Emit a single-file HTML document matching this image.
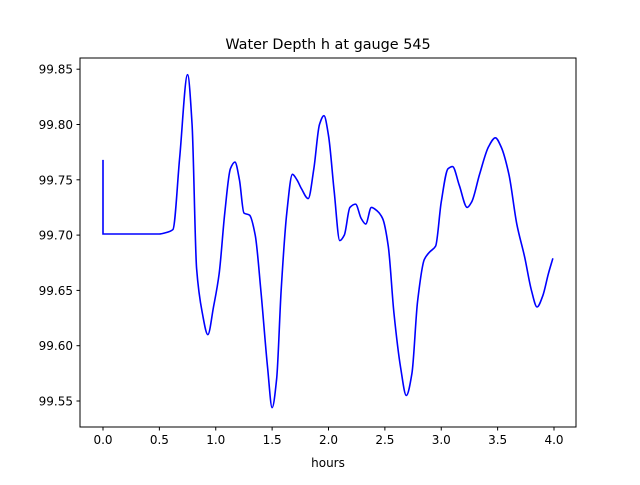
<!DOCTYPE html>
<html><head><meta charset="utf-8"><style>
body{margin:0;background:#fff}
svg text{font-family:"DejaVu Sans","Liberation Sans",sans-serif;fill:#000}
</style></head><body>
<svg id="c" width="640" height="480" xmlns="http://www.w3.org/2000/svg">
<rect width="640" height="480" fill="#fff"/>
<text x="328" y="49" font-size="14.4" text-anchor="middle">Water Depth h at gauge 545</text>
<text x="328" y="467" font-size="12" text-anchor="middle">hours</text>
<g id="ticks"></g>
<path id="line" fill="none" stroke="#0000ff" stroke-width="1.6"/>
<rect x="80" y="58" width="496" height="369" fill="none" stroke="#000" stroke-width="1"/>
</svg>
<script>
const hours=[0,0,0.5,0.55,0.62,0.68,0.75,0.79,0.83,0.88,0.93,0.98,1.03,1.08,1.13,1.17,1.21,1.25,1.3,1.35,1.4,1.46,1.5,1.54,1.58,1.63,1.68,1.72,1.76,1.82,1.87,1.92,1.96,2.0,2.05,2.1,2.14,2.19,2.24,2.29,2.33,2.38,2.43,2.48,2.53,2.58,2.64,2.69,2.74,2.79,2.85,2.9,2.95,3.0,3.06,3.1,3.16,3.23,3.27,3.34,3.42,3.48,3.53,3.6,3.67,3.74,3.8,3.85,3.9,3.95,3.99];
const depth=[99.768,99.701,99.701,99.702,99.705,99.77,99.845,99.80,99.67,99.63,99.61,99.635,99.665,99.72,99.76,99.766,99.75,99.72,99.718,99.70,99.65,99.58,99.544,99.57,99.65,99.72,99.755,99.75,99.742,99.733,99.76,99.80,99.808,99.79,99.74,99.695,99.70,99.725,99.728,99.715,99.71,99.725,99.722,99.715,99.69,99.63,99.58,99.555,99.575,99.64,99.678,99.685,99.69,99.73,99.76,99.762,99.745,99.725,99.73,99.755,99.78,99.788,99.78,99.755,99.71,99.68,99.65,99.635,99.645,99.665,99.679];
const xTicks=[0,0.5,1,1.5,2,2.5,3,3.5,4];
const xLabels=["0.0","0.5","1.0","1.5","2.0","2.5","3.0","3.5","4.0"];
const yTicks=[99.55,99.60,99.65,99.70,99.75,99.80,99.85];
const yLabels=["99.55","99.60","99.65","99.70","99.75","99.80","99.85"];
const X=h=>103+h*112.75;
const Y=v=>401-(v-99.55)/0.05*55.3;
const NS="http://www.w3.org/2000/svg";
const g=document.getElementById('ticks');
function mk(tag,at){const e=document.createElementNS(NS,tag);for(const k in at)e.setAttribute(k,at[k]);g.appendChild(e);return e;}
xTicks.forEach((t,i)=>{
 const l=mk('line',{x1:X(t),x2:X(t),y1:427,y2:430.5,stroke:'#000'});
 
 
 const tx=mk('text',{x:X(t),y:444,'font-size':12,'text-anchor':'middle'});tx.textContent=xLabels[i];
 
 
});
yTicks.forEach((t,i)=>{
 const l=mk('line',{x1:76.5,x2:80,y1:Y(t),y2:Y(t),stroke:'#000'});
 
 
 const tx=mk('text',{x:73,y:Y(t)+4.5,'font-size':12,'text-anchor':'end'});tx.textContent=yLabels[i];
 
 
});
const P=hours.map((h,i)=>[X(h),Y(depth[i])]);
// monotone cubic from index 1 onward
const Q=P.slice(1);
const n=Q.length;
const dl=[],m=[];
for(let i=0;i<n-1;i++)dl.push((Q[i+1][1]-Q[i][1])/(Q[i+1][0]-Q[i][0]));
m[0]=dl[0];m[n-1]=dl[n-2];
for(let i=1;i<n-1;i++){
 if(dl[i-1]*dl[i]<=0)m[i]=0;
 else{const h0=Q[i][0]-Q[i-1][0],h1=Q[i+1][0]-Q[i][0];const w1=2*h1+h0,w2=h1+2*h0;m[i]=(w1+w2)/(w1/dl[i-1]+w2/dl[i]);}
}
let d=`M${P[0][0]},${P[0][1]} L${Q[0][0]},${Q[0][1]}`;
for(let i=0;i<n-1;i++){
 const h=(Q[i+1][0]-Q[i][0])/3;
 d+=` C${Q[i][0]+h},${Q[i][1]+m[i]*h} ${Q[i+1][0]-h},${Q[i+1][1]-m[i+1]*h} ${Q[i+1][0]},${Q[i+1][1]}`;
}
document.getElementById('line').setAttribute('d',d);
</script>
</body></html>
